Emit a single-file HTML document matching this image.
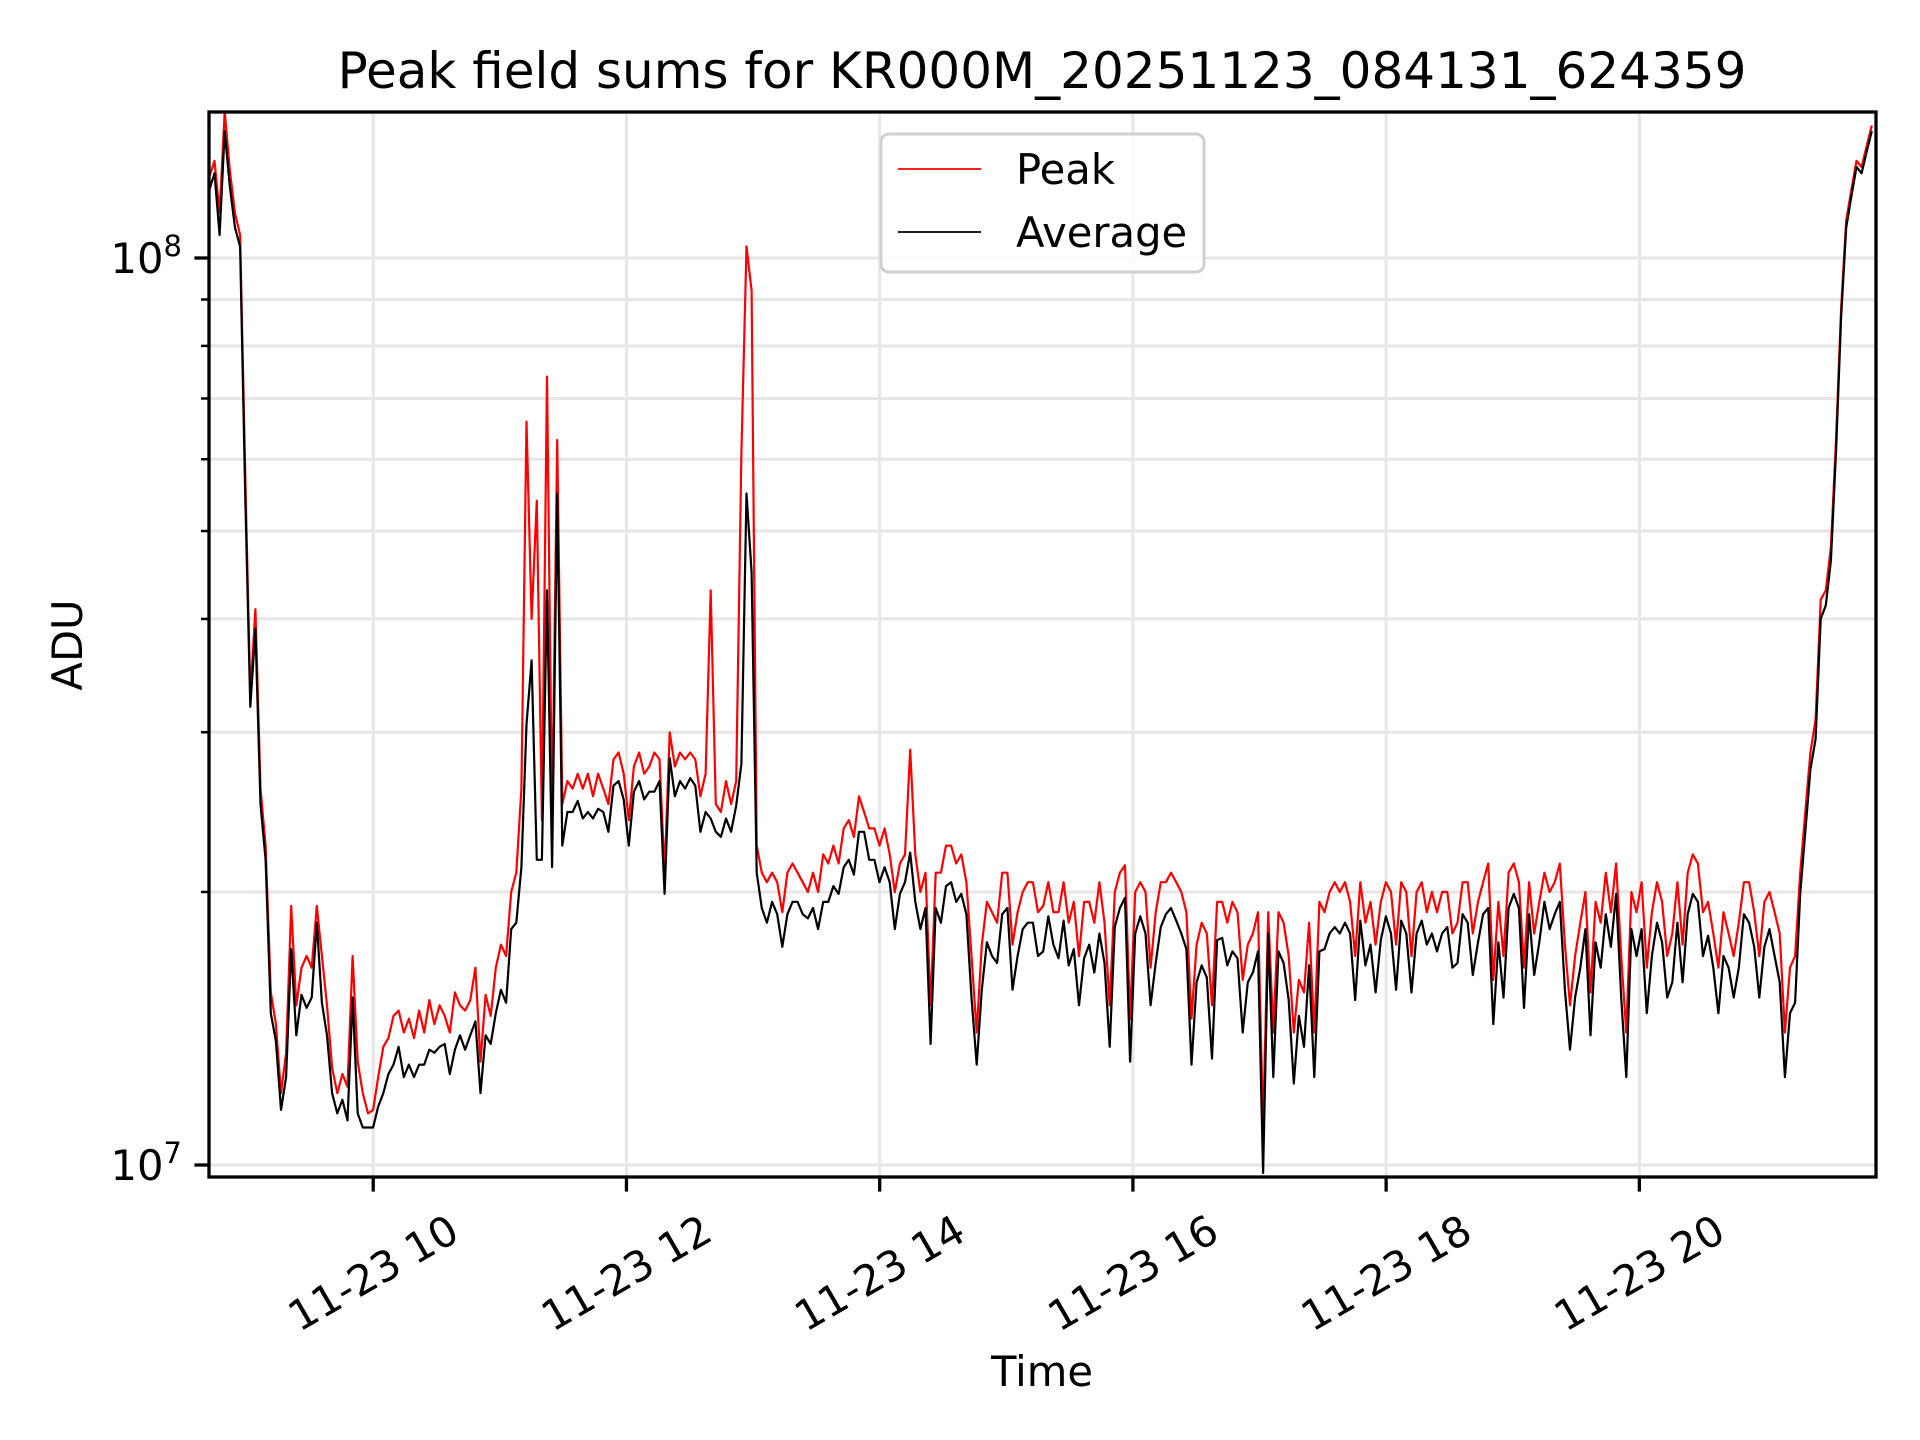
<!DOCTYPE html>
<html><head><meta charset="utf-8"><style>
html,body{margin:0;padding:0;background:#fff;}
svg{display:block;font-family:"DejaVu Sans","Liberation Sans",sans-serif;}
</style></head><body>
<svg id="chart" width="1920" height="1440" viewBox="0 0 1920 1440" xmlns="http://www.w3.org/2000/svg">
<rect width="1920" height="1440" fill="#fff"/>
<g id="grid"></g>
<g id="series"></g>
<g id="axes"></g>
<text x="1042" y="88" font-size="50" text-anchor="middle">Peak field sums for KR000M_20251123_084131_624359</text>
<text x="1042" y="1386" font-size="41.7" text-anchor="middle">Time</text>
<text x="82" y="645" font-size="41.7" text-anchor="middle" transform="rotate(-90 82 645)">ADU</text>
<g>
<rect x="881" y="134" width="323" height="138" rx="8" fill="#fff" fill-opacity="0.8" stroke="#d0d0d0" stroke-width="3"/>
<line x1="898" y1="169" x2="981" y2="169" stroke="#ff0000" stroke-width="1.8"/>
<text x="1016" y="184" font-size="41.7">Peak</text>
<line x1="898" y1="232" x2="981" y2="232" stroke="#000" stroke-width="1.8"/>
<text x="1016" y="247" font-size="41.7">Average</text>
</g>
</svg>
<script>
const t0 = 8.706;
const dtHours = 0.0404;
const avgM = [
119,124,106,138,120,108,103,55,32,39,
25,21.7,14.7,13.7,11.5,12.5,17.3,13.9,15.4,14.9,
15.3,18.5,15.1,13.9,12.0,11.4,11.8,11.2,15.3,11.4,
11.0,11.0,11.0,11.6,12.0,12.6,12.9,13.5,12.5,12.9,
12.5,12.9,12.9,13.4,13.3,13.5,13.6,12.6,13.4,13.9,
13.4,13.9,14.4,12.0,13.9,13.6,14.7,15.6,15.1,18.2,
18.5,21.3,30.6,36,21.7,21.7,43,21.3,55,22.5,
24.5,24.5,25.2,24.1,24.5,24.1,24.7,24.5,23.3,26.2,26.5,25.3,22.5,
25.8,26.5,25.3,25.8,25.8,26.5,19.9,
28.1,25.5,26.5,26,26.7,26.2,23.3,24.5,24.1,23.3,
23,24.1,23.3,24.9,27.7,55,45,21,19.2,18.5,
19.5,18.9,17.4,18.9,19.5,19.5,18.9,18.7,19.2,18.2,
19.5,19.5,20.3,19.9,21.3,21.7,20.9,23.3,23.3,21.7,
21.7,20.5,21.3,20.5,18.2,19.9,20.5,22.1,19.5,18.2,
19.2,13.6,19.2,18.5,20.3,20.5,19.5,19.9,18.9,15.3,
12.9,15.6,17.6,17,16.7,18.9,19.2,15.6,17,18.2,18.5,18.5,17,
17.2,18.8,17.5,16.9,18.6,16.6,17.3,15,16.9,17.5,
16.3,18,16.7,13.5,18.3,19.2,19.7,13.0,18,18.8,
18,15,16.7,18.3,18.9,19.2,18.6,18,17.3,12.9,
15.9,16.6,16.1,13.1,17.7,17.8,16.6,17.2,16.9,14,
15.9,16.3,17.2,9.8,18,12.5,17.2,16.7,15.2,12.3,
14.6,13.5,16.6,12.5,17.2,17.3,18,18.3,18,18.5,
18,15.2,18.6,16.6,17.5,15.5,17.7,18.8,18,15.6,
18.6,18,15.5,18,18.6,17.5,18,17.2,18,18.3,
16.5,16.7,18.9,18.5,16.2,17.6,18.9,19.2,14.3,17.6,
15.3,19.2,19.9,19.2,14.9,18.9,16.2,17.6,19.5,18.2,
18.9,19.5,15.6,13.4,15.3,16.5,18.2,13.9,17.6,16.5,
18.9,17.4,19.9,15.3,12.5,18.2,17,18.2,14.7,17,
18.5,17.6,15.3,15.9,18.5,15.9,18.9,19.9,19.5,17,
17.9,16.5,14.7,17,16.5,15.3,16.5,18.9,18.5,17.4,
15.3,17.4,18.2,17,15.9,12.5,14.7,15.1,19.9,23.3,
27.3,29.5,40,41.4,46.4,61,86,108,117,126,124,131,138
];
const peakM = [
123,128,112,145,125,112,106,58,33,41,
26,22.5,15.5,14.3,12.0,13.3,19.3,15.0,16.5,17.0,
16.5,19.3,17.0,15.0,12.8,12.0,12.6,12.2,17.0,13.0,
12.0,11.4,11.5,12.5,13.5,13.8,14.6,14.8,14.0,14.5,
13.8,14.8,14.0,15.2,14.3,15.0,14.6,14.0,15.5,15.0,
14.8,15.2,16.5,13.0,15.4,14.6,16.5,17.5,17.0,20.0,
21,26,66,40,54,24,74,24,63,25,
26.5,26,27,26,27,25.5,27,26,25,28,28.5,27,24,
27.5,28.5,27,27.5,28.5,28,21,
30,27.5,28.5,28,28.5,28,25.5,27,43,25,
24.5,26.5,25,26.5,61,103,92,22.5,21,20.5,
21,20.5,19,21,21.5,21,20.5,20,21,20,
22,21.5,22.5,21.5,23.5,24,23,25.5,24.5,23.5,
23.5,22.5,23.5,22,20,21.5,22,28.7,22,20,
21,15,21,21,22.5,22.5,21.5,22,20.5,17,
14,17.5,19.5,19,18.5,21,21,17.5,19,20,20.5,20.5,19,
19.3,20.5,19,19,20.5,18.5,19.5,17,19.5,19.5,
18.5,20.5,18.5,15,20,21,21.4,14.5,20,20.5,
20,16.5,19,20.5,20.5,21,20.5,20,19,14.5,
17.5,18.5,18,15,19.5,19.5,18.5,19.5,19,16,
17.5,18,19,11,19,14,19,18.5,17,14,
16,15.5,18.5,14,19.5,19,20,20.5,20,20.5,
19.5,17,20.5,18.5,19.5,17.5,19.5,20.5,20,17.5,
20.5,20,17,20,20.5,19,20,19,20,20,
18,18.5,20.5,20.5,18,19.5,20.5,21.5,16,19.5,
17,21,21.5,20.5,16.5,20.5,18,19.5,21,20,
20.5,21.5,17.5,15,17,18.5,20,15.5,19.5,18.5,
21,19,21.5,17,14,20,19,20.5,16.5,19,
20.5,19.5,17,18,20.5,17.5,21,22,21.5,19,
19.5,18,16.5,19,18,17,18.5,20.5,20.5,19,
17,19.5,20,19,18,14,16.5,17,21,24.5,
28.5,31,42,43,48,63,88,110,119,128,126,133,140
];
const xTickHours = [10,12,14,16,18,20];
const xTickLabels = ["11-23 10","11-23 12","11-23 14","11-23 16","11-23 18","11-23 20"];
const yMajorExp = [7,8];
const yMinorM = [20,30,40,50,60,70,80,90];

const NS = "http://www.w3.org/2000/svg";
const L = 209, R = 1876, T = 112, B = 1177;
const xMin = 8.703, xMax = 21.869;
function xs(h){ return L + (h - xMin) / (xMax - xMin) * (R - L); }
function ys(vM){ return 258 + (8 - Math.log10(vM * 1e6)) * 907; }
function mk(tag, attrs, parent){
  const e = document.createElementNS(NS, tag);
  for (const k in attrs) e.setAttribute(k, attrs[k]);
  parent.appendChild(e); return e;
}
const grid = document.getElementById('grid');
const axes = document.getElementById('axes');
const series = document.getElementById('series');

yMinorM.forEach(v => {
  const y = ys(v);
  const g = mk('line', {x1:L, x2:R, y1:y, y2:y, stroke:'#e6e6e6', 'stroke-width':3}, grid);
  
  
  const t = mk('line', {x1:L-8, x2:L, y1:y, y2:y, stroke:'#000', 'stroke-width':2.5}, axes);
  
  
});
yMajorExp.forEach(e => {
  const y = ys(Math.pow(10, e) / 1e6);
  const g = mk('line', {x1:L, x2:R, y1:y, y2:y, stroke:'#e6e6e6', 'stroke-width':3}, grid);
  
  
  const t = mk('line', {x1:L-14.6, x2:L, y1:y, y2:y, stroke:'#000', 'stroke-width':3.3}, axes);
  
  
  const tx = mk('text', {x:182, y:y+15, 'font-size':41.7, 'text-anchor':'end'}, axes);
  
  
  const a = document.createElementNS(NS, 'tspan'); a.textContent = '10'; tx.appendChild(a);
  const b = document.createElementNS(NS, 'tspan'); b.setAttribute('font-size', '29'); b.setAttribute('dy', '-17'); b.textContent = String(e); tx.appendChild(b);
});
xTickHours.forEach((h, i) => {
  const x = xs(h);
  const g = mk('line', {x1:x, x2:x, y1:T, y2:B, stroke:'#e6e6e6', 'stroke-width':3}, grid);
  
  
  const t = mk('line', {x1:x, x2:x, y1:B, y2:B+14.6, stroke:'#000', 'stroke-width':3.3}, axes);
  
  
  const tx = mk('text', {x:x, y:1273, 'font-size':41.7, 'text-anchor':'middle', 'dominant-baseline':'central', transform:'rotate(-30 '+x+' 1273)'}, axes);
  
  
  tx.textContent = xTickLabels[i];
});

function pathFor(arr){
  let d = '';
  arr.forEach((v, i) => {
    const x = xs(t0 + i * dtHours), y = ys(v);
    d += (i ? 'L' : 'M') + x.toFixed(1) + ' ' + y.toFixed(1);
  });
  return d;
}
const clip = mk('clipPath', {id:'plotclip'}, mk('defs', {}, series));
mk('rect', {x:L, y:T, width:R-L, height:B-T}, clip);
const pk = mk('path', {d:pathFor(peakM), fill:'none', stroke:'#ff0000', 'stroke-width':2.2, 'stroke-linejoin':'round', 'clip-path':'url(#plotclip)'}, series);


const av = mk('path', {d:pathFor(avgM), fill:'none', stroke:'#000', 'stroke-width':2.2, 'stroke-linejoin':'round', 'clip-path':'url(#plotclip)'}, series);



const frame = mk('rect', {x:L, y:T, width:R-L, height:B-T, fill:'none', stroke:'#000', 'stroke-width':3.3}, axes);


</script>
</body></html>
